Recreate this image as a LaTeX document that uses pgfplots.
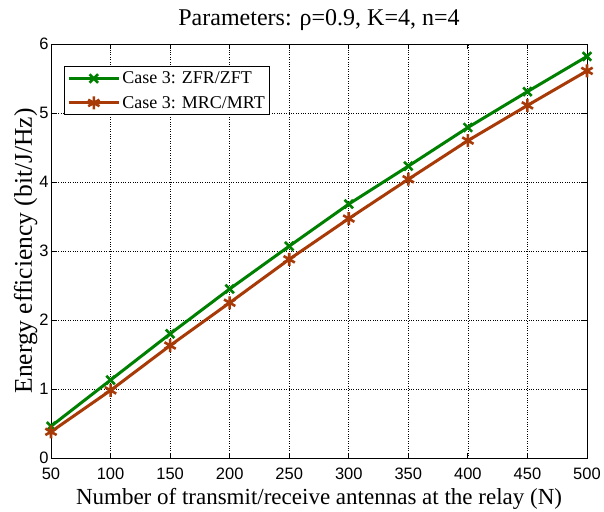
\documentclass[border=0pt]{standalone}
\usepackage{pgfplots}
\pgfplotsset{compat=1.18}
\usepackage{fontspec}
\setmainfont{Liberation Serif}
\setsansfont{Liberation Sans}
\definecolor{cgreen}{RGB}{0,128,0}
\definecolor{cred}{RGB}{168,58,8}
\begin{document}
\begin{tikzpicture}
\useasboundingbox (-51pt,-53pt) rectangle (553pt,458pt);
\begin{axis}[
  at={(0,0)}, anchor=south west,
  scale only axis, width=536pt, height=414pt,
  xmin=50, xmax=500, ymin=0, ymax=6,
  xtick={50,100,...,500}, ytick={0,1,...,6},
  grid=major,
  major grid style={black, dotted, line width=0.6pt},
  axis line style={black, line width=0.9pt},
  tick style={black, line width=0.9pt},
  tick align=inside,
  major tick length=5pt,
  xtick pos=both, ytick pos=both,
  ticklabel style={font=\sffamily\fontsize{16.5}{18}\selectfont},
  xticklabel style={yshift=-6pt},
  yticklabel style={xshift=1pt},
  /pgf/number format/assume math mode=true,
  xlabel={Number of transmit/receive antennas at the relay (N)},
  ylabel={Energy efficiency (bit/J/Hz)},
  xlabel style={font=\rmfamily\fontsize{23}{26}\selectfont, yshift=-2pt},
  ylabel style={font=\rmfamily\fontsize{25.5}{28}\selectfont, yshift=-5pt},
  title={Parameters: ρ=0.9, K=4, n=4},
  title style={font=\rmfamily\fontsize{24}{27}\selectfont, yshift=4pt},
  legend style={at={(0.024,0.946)}, anchor=north west, draw=black, line width=0.9pt,
    font=\rmfamily\fontsize{18}{20}\selectfont, row sep=7pt, inner sep=3pt},
  legend cell align=left,
  legend image code/.code={\draw[mark repeat=2,mark phase=2] plot coordinates {(0pt,0pt) (25pt,0pt) (50pt,0pt)};},
]
\addplot[cgreen, line width=3pt, mark=x, mark size=6pt, mark options={line width=2.6pt}]
 coordinates {(50,0.46) (100,1.13) (150,1.80) (200,2.45) (250,3.07) (300,3.68) (350,4.23) (400,4.79) (450,5.31) (500,5.82)};
\addlegendentry{Case 3: ZFR/ZFT}
\addplot[cred, line width=3pt, mark=asterisk, mark size=6.5pt, mark options={line width=2.6pt}]
 coordinates {(50,0.38) (100,0.98) (150,1.63) (200,2.25) (250,2.88) (300,3.47) (350,4.04) (400,4.60) (450,5.11) (500,5.61)};
\addlegendentry{Case 3: MRC/MRT}
\end{axis}
\end{tikzpicture}
\end{document}
